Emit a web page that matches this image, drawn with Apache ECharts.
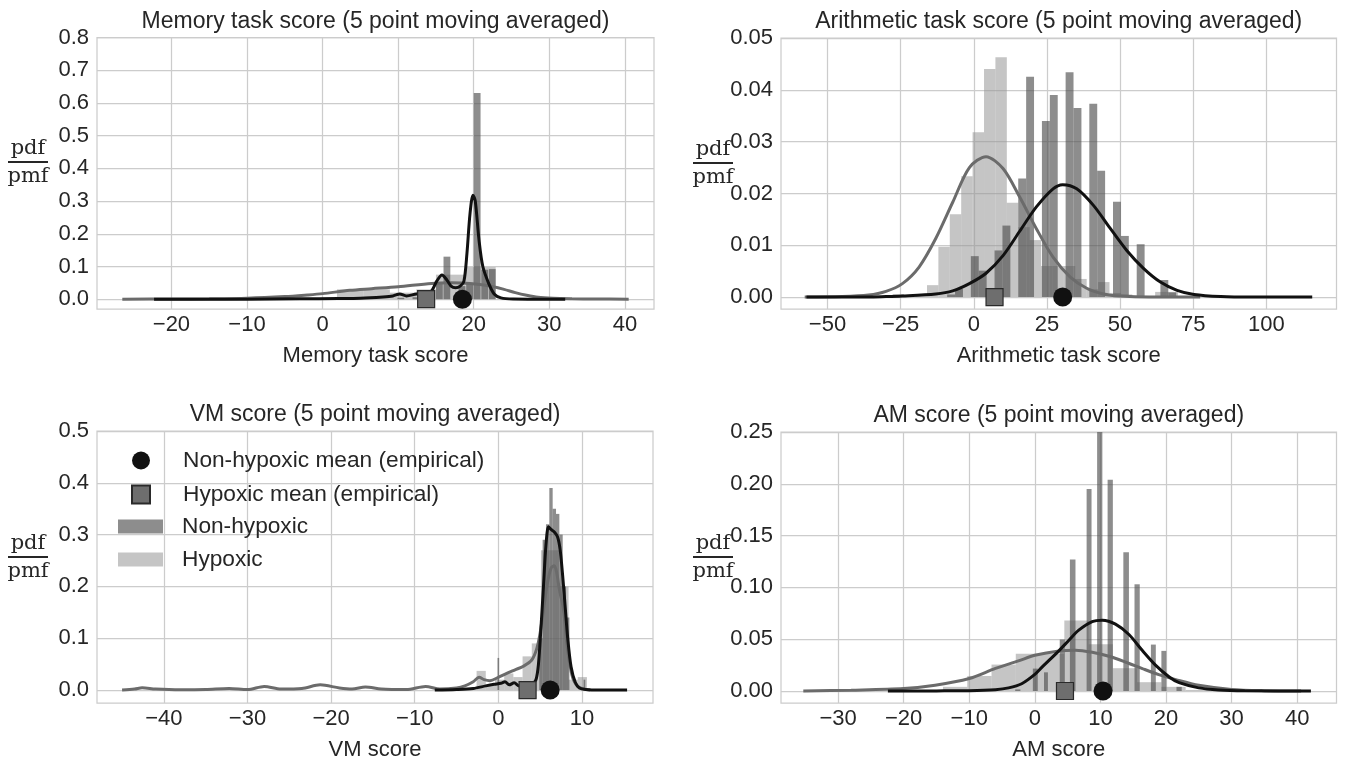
<!DOCTYPE html>
<html>
<head>
<meta charset="utf-8">
<script src="https://cdn.jsdelivr.net/npm/echarts@6/dist/echarts.min.js"></script>
<style>
html, body { margin: 0; padding: 0; background: #fff; }
#chart { width: 1345px; height: 761px; }
</style>
</head>
<body>
<div id="chart"></div>
<script>
// ---------- values ----------
// Memory task score
const memTicksX = [-20, -10, 0, 10, 20, 30, 40];
const memTicksY = [0, 0.1, 0.2, 0.3, 0.4, 0.5, 0.6, 0.7, 0.8];
const memHypEdges = [1.9, 5.4, 8.9, 12.4, 15.0, 16.9, 18.9, 20.9, 22.9];
const memHypPdf = [0.03, 0.03, 0.02, 0.03, 0.075, 0.075, 0.098, 0.098];
const memNonLo = [9.9, 11.9, 13.0, 15.0, 16.0, 18.0, 19.0, 20.0, 21.0, 22.0];
const memNonHi = [10.8, 12.8, 13.9, 15.9, 16.9, 18.9, 19.9, 20.9, 21.9, 22.9];
const memNonPdf = [0.004, 0.006, 0.01, 0.05, 0.13, 0.04, 0.05, 0.63, 0.09, 0.092];
const memHypCurve = [[-26.5, 0], [-20, 0.0005], [-15, 0.0012], [-10, 0.003], [-5, 0.008], [-2, 0.013], [0, 0.017],
  [3.6, 0.027], [6.5, 0.032], [10, 0.038], [14.4, 0.048], [17, 0.05], [19.5, 0.048], [22, 0.041], [24, 0.03],
  [25.5, 0.02], [27, 0.012], [28.5, 0.006], [30.5, 0.003], [33, 0.0015], [36, 0.0005], [40.5, 0]];
const memNonCurve = [[-22.3, 0], [-10, 0], [-3, 0.001], [2, 0.002], [5, 0.003], [8, 0.007], [9.3, 0.01], [9.8, 0.014],
  [10.2, 0.016], [11.1, 0.01], [12.4, 0.016], [13.5, 0.018], [14.4, 0.025], [15.1, 0.055], [15.8, 0.074], [16.4, 0.06],
  [17.0, 0.04], [17.6, 0.035], [18.2, 0.04], [18.7, 0.055], [19.1, 0.14], [19.5, 0.26], [19.9, 0.318], [20.2, 0.3],
  [20.7, 0.18], [21.2, 0.1], [22.0, 0.047], [22.7, 0.016], [23.6, 0.004], [25.3, 0.0005], [28, 0], [32.1, 0]];

// Arithmetic task score
const aritTicksX = [-50, -25, 0, 25, 50, 75, 100];
const aritTicksY = [0, 0.01, 0.02, 0.03, 0.04, 0.05];
const aritHypEdges = [-27.7, -23.8, -19.9, -16.0, -12.1, -8.2, -4.3, -0.4, 3.5, 7.4, 11.3, 15.2, 19.1, 23.0, 26.9,
  30.8, 34.7, 38.6, 42.5, 46.4, 50.3, 54.2, 58.1, 62.0, 65.9, 69.8];
const aritHypPdf = [0.0006, 0, 0.0003, 0.0023, 0.0097, 0.016, 0.0233, 0.0318, 0.044, 0.0463, 0.0182, 0.0135, 0.011,
  0.006, 0.006, 0.006, 0.0035, 0.0015, 0.0029, 0.0008, 0.0005, 0, 0, 0.001, 0.001];
const aritNonEdges = [-9.1, -6.4, -3.7, -1.0, 1.7, 4.4, 7.1, 9.8, 12.5, 15.2, 17.9, 20.6, 23.3, 26.0, 28.7, 31.4,
  34.1, 36.8, 39.5, 42.2, 44.9, 47.6, 50.3, 53.0, 55.7, 58.4, 61.1, 63.8, 66.5, 69.2];
const aritNonPdf = [0.0005, 0.0016, 0, 0.0079, 0.0051, 0, 0.009, 0.0138, 0, 0.0229, 0.0425, 0, 0.034, 0.039, 0,
  0.0434, 0.0365, 0, 0.0373, 0.0244, 0, 0.0184, 0.0118, 0, 0.0102, 0, 0, 0.0033, 0.0009];
const aritHypCurve = [[-57.8, 0], [-45, 0.0001], [-36, 0.0004], [-30, 0.0011], [-24.4, 0.0026], [-18.7, 0.0058],
  [-13, 0.0113], [-7.2, 0.0183], [-1.5, 0.025], [4.2, 0.0271], [10, 0.0248], [15.7, 0.0193], [21.4, 0.0132],
  [27.1, 0.0077], [32.9, 0.0039], [38.6, 0.0017], [44.3, 0.0006], [50, 0.0002], [60, 0], [77.4, 0]];
const aritNonCurve = [[-57.2, 0], [-40, 0], [-30, 0.0001], [-24.4, 0.0002], [-13, 0.0006], [-7.2, 0.0012],
  [-1.5, 0.0026], [4.2, 0.0046], [10, 0.008], [15.7, 0.0127], [21.4, 0.0174], [27.1, 0.0209], [30.4, 0.0217],
  [35.2, 0.0209], [40.9, 0.0177], [46.6, 0.0133], [52.3, 0.009], [58.1, 0.0055], [63.8, 0.0029], [69.5, 0.0013],
  [75.3, 0.0005], [84.4, 0.0001], [95, 0], [115.7, 0]];

// VM score
const vmTicksX = [-40, -30, -20, -10, 0, 10];
const vmTicksY = [0, 0.1, 0.2, 0.3, 0.4, 0.5];
const vmHypEdges = [-2.6, -1.5, -0.4, 0.7, 1.8, 2.9, 4.0, 5.1, 6.2, 7.3, 8.4, 9.5, 10.6];
const vmHypPdf = [0.037, 0.01, 0.02, 0.032, 0.025, 0.065, 0.09, 0.27, 0.27, 0.2, 0.02, 0.025];
const vmNonLo = [-0.1, 4.9, 5.3, 5.7, 6.1, 6.5, 6.9, 7.3, 7.7, 8.1, 10.2];
const vmNonHi = [0.1, 5.3, 5.7, 6.1, 6.5, 6.9, 7.3, 7.7, 8.1, 8.5, 10.4];
const vmNonPdf = [0.062, 0.1, 0.29, 0.32, 0.39, 0.35, 0.34, 0.3, 0.2, 0.14, 0.02];
const vmHypCurve = [[-45, 0], [-43.5, 0.002], [-42.6, 0.0045], [-41, 0.002], [-38, 0.0005], [-35, 0.001],
  [-32.2, 0.003], [-30, 0.001], [-28, 0.007], [-26, 0.002], [-23.5, 0.003], [-21.3, 0.01], [-19, 0.004],
  [-17.5, 0.002], [-15.9, 0.006], [-14, 0.002], [-11, 0.001], [-8.7, 0.007], [-7, 0.002], [-5, 0.004], [-4, 0.008],
  [-3, 0.016], [-2.3, 0.0245], [-1.7, 0.02], [-1, 0.018], [0, 0.0245], [1, 0.032], [2, 0.039], [3, 0.046], [4, 0.058],
  [4.6, 0.08], [5, 0.11], [5.4, 0.155], [5.8, 0.2], [6.3, 0.235], [6.7, 0.24], [7.0, 0.225], [7.3, 0.194],
  [7.8, 0.155], [8.2, 0.09], [8.6, 0.045], [9, 0.019], [9.6, 0.006], [10.5, 0.001], [11, 0]];
const vmNonCurve = [[-7.6, 0], [-5, 0.001], [-3, 0.003], [-1.5, 0.008], [-0.5, 0.011], [0.3, 0.013], [0.8, 0.016],
  [1.3, 0.01], [1.9, 0.014], [2.5, 0.008], [3.3, 0.009], [4.0, 0.011], [4.5, 0.02], [4.8, 0.05], [5.1, 0.12],
  [5.4, 0.2], [5.7, 0.28], [6.0, 0.315], [6.3, 0.31], [6.7, 0.305], [7.1, 0.295], [7.4, 0.27], [7.7, 0.22],
  [8.0, 0.16], [8.3, 0.1], [8.7, 0.045], [9.2, 0.015], [9.7, 0.004], [10.5, 0.001], [12, 0], [15.4, 0]];

// AM score
const amTicksX = [-30, -20, -10, 0, 10, 20, 30, 40];
const amTicksY = [0, 0.05, 0.1, 0.15, 0.2, 0.25];
const amHypEdges = [-14.0, -10.3, -6.6, -2.9, 0.8, 4.5, 8.2, 11.9, 15.6, 19.3, 23.0, 26.7];
const amHypPdf = [0.004, 0.0145, 0.0255, 0.036, 0.036, 0.068, 0.045, 0.022, 0.0085, 0.004, 0.001];
const amNonLo = [-3.0, -0.3, 1.4, 3.8, 5.35, 7.9, 9.5, 11.1, 13.5, 15.2, 17.7, 19.3, 21.6];
const amNonHi = [-2.2, 0.45, 2.0, 4.58, 6.2, 8.65, 10.3, 11.9, 14.35, 16.0, 18.45, 20.05, 22.4];
const amNonPdf = [0.0015, 0.0216, 0.018, 0.0497, 0.127, 0.195, 0.25, 0.204, 0.134, 0.103, 0.0448, 0.0387, 0.004];
const amHypCurve = [[-35.3, 0], [-28, 0.0008], [-20, 0.0023], [-15.2, 0.0055], [-10, 0.012], [-6, 0.0218],
  [-2.5, 0.029], [0, 0.0345], [3.7, 0.0387], [6.2, 0.0394], [8.75, 0.0374], [11.3, 0.0335], [13.8, 0.028],
  [16.4, 0.0216], [18.9, 0.0158], [21.5, 0.011], [25, 0.0055], [30, 0.0015], [35, 0.0003], [40.6, 0]];
const amNonCurve = [[-22.4, 0], [-15, 0.0001], [-10, 0.0003], [-6, 0.0013], [-4, 0.003], [-2, 0.007], [0, 0.016],
  [1.1, 0.023], [3.7, 0.039], [5.2, 0.049], [6.7, 0.0587], [8.75, 0.067], [10.3, 0.0684], [12.3, 0.0645],
  [14.35, 0.0545], [16.4, 0.039], [18.4, 0.025], [20.5, 0.0135], [22, 0.008], [25, 0.003], [28, 0.001],
  [32, 0.0002], [42.1, 0]];

// empirical means (memory, arithmetic, VM, AM)
const meanNon = [18.5, 30.4, 6.2, 10.4];
const meanHyp = [13.7, 7.1, 3.5, 4.6];

// ---------- styling ----------
const FONT = '"Liberation Sans", Arial, sans-serif';
const SERIF = '"DejaVu Serif", "Liberation Serif", serif';
const INK = '#262626';
const GRIDC = '#cccccc';
const HYP_FILL = 'rgba(150,150,150,0.55)';
const NON_FILL = 'rgba(80,80,80,0.65)';
const HYP_LINE = '#6b6b6b';
const NON_LINE = '#111111';

function edgeBars(edges, pdf) { return pdf.map((h, i) => [edges[i], edges[i + 1], h]); }
function pairBars(lo, hi, pdf) { return pdf.map((h, i) => [lo[i], hi[i], h]); }
function minus(v) { return v < 0 ? '\u2212' + Math.abs(v) : String(v); }

const panels = [
  { box: { left: 97, top: 37.5, width: 557, height: 271.5 }, x: [-29.85, 43.85], y: [-0.03, 0.8],
    xTicks: memTicksX, yTicks: memTicksY, dec: 1,
    title: 'Memory task score (5 point moving averaged)', xName: 'Memory task score',
    hyp: edgeBars(memHypEdges, memHypPdf), non: pairBars(memNonLo, memNonHi, memNonPdf),
    hypCurve: memHypCurve, nonCurve: memNonCurve, frac: [28, 162] },
  { box: { left: 781, top: 38, width: 555.5, height: 271 }, x: [-65.9, 124.0], y: [-0.0023, 0.05],
    xTicks: aritTicksX, yTicks: aritTicksY, dec: 2,
    title: 'Arithmetic task score (5 point moving averaged)', xName: 'Arithmetic task score',
    hyp: edgeBars(aritHypEdges, aritHypPdf), non: edgeBars(aritNonEdges, aritNonPdf),
    hypCurve: aritHypCurve, nonCurve: aritNonCurve, frac: [713, 163] },
  { box: { left: 97, top: 431, width: 556, height: 272 }, x: [-48.0, 18.5], y: [-0.025, 0.5],
    xTicks: vmTicksX, yTicks: vmTicksY, dec: 1,
    title: 'VM score (5 point moving averaged)', xName: 'VM score',
    hyp: edgeBars(vmHypEdges, vmHypPdf), non: pairBars(vmNonLo, vmNonHi, vmNonPdf),
    hypCurve: vmHypCurve, nonCurve: vmNonCurve, frac: [28, 557] },
  { box: { left: 781, top: 432, width: 555.5, height: 271 }, x: [-38.7, 46.0], y: [-0.0116, 0.25],
    xTicks: amTicksX, yTicks: amTicksY, dec: 2,
    title: 'AM score (5 point moving averaged)', xName: 'AM score',
    hyp: edgeBars(amHypEdges, amHypPdf), non: pairBars(amNonLo, amNonHi, amNonPdf),
    hypCurve: amHypCurve, nonCurve: amNonCurve, frac: [713, 557] }
];

function renderBar(params, api) {
  const h = api.value(2);
  if (!h) return null;
  const a = api.coord([api.value(0), h]);
  const b = api.coord([api.value(1), 0]);
  return { type: 'rect', shape: { x: a[0], y: a[1], width: b[0] - a[0], height: b[1] - a[1] },
    style: { fill: api.visual('color') } };
}

const grids = [], xAxes = [], yAxes = [], series = [], graphics = [];
panels.forEach((p, i) => {
  grids.push(Object.assign({ show: true, borderColor: GRIDC, borderWidth: 1.25, containLabel: false,
    outerBoundsMode: 'none' }, p.box));
  xAxes.push({
    type: 'value', gridIndex: i, min: p.x[0], max: p.x[1],
    axisLine: { show: false }, axisTick: { show: false, customValues: p.xTicks },
    axisLabel: { customValues: p.xTicks, formatter: minus, fontSize: 22, color: INK, fontFamily: FONT, margin: 5 },
    splitLine: { show: true, lineStyle: { color: GRIDC, width: 1.25 } },
    name: p.xName, nameLocation: 'middle', nameGap: 36,
    nameTextStyle: { fontSize: 22, color: INK, fontFamily: FONT }
  });
  yAxes.push({
    type: 'value', gridIndex: i, min: p.y[0], max: p.y[1],
    axisLine: { show: false }, axisTick: { show: false, customValues: p.yTicks },
    axisLabel: { customValues: p.yTicks, formatter: v => v.toFixed(p.dec), fontSize: 22, color: INK,
      fontFamily: FONT, margin: 8 },
    splitLine: { show: true, lineStyle: { color: GRIDC, width: 1.25 } }
  });
  series.push({ type: 'custom', name: 'Hypoxic', xAxisIndex: i, yAxisIndex: i, renderItem: renderBar,
    itemStyle: { color: HYP_FILL }, encode: { x: [0, 1], y: 2 }, data: p.hyp, z: 1 });
  series.push({ type: 'custom', name: 'Non-hypoxic', xAxisIndex: i, yAxisIndex: i, renderItem: renderBar,
    itemStyle: { color: NON_FILL }, encode: { x: [0, 1], y: 2 }, data: p.non, z: 2 });
  series.push({ type: 'line', name: 'Hypoxic fit', xAxisIndex: i, yAxisIndex: i, data: p.hypCurve,
    smooth: 0.3, showSymbol: false, lineStyle: { color: HYP_LINE, width: 3 }, itemStyle: { color: HYP_LINE }, z: 3 });
  series.push({ type: 'line', name: 'Non-hypoxic fit', xAxisIndex: i, yAxisIndex: i, data: p.nonCurve,
    smooth: 0.3, showSymbol: false, lineStyle: { color: NON_LINE, width: 3 }, itemStyle: { color: NON_LINE }, z: 4 });
  series.push({ type: 'scatter', name: 'Hypoxic mean (empirical)', xAxisIndex: i, yAxisIndex: i,
    data: [[meanHyp[i], 0]], symbol: 'rect', symbolSize: 17, clip: false,
    itemStyle: { color: '#6e6e6e', borderColor: '#2a2a2a', borderWidth: 1.2, opacity: 1 }, z: 5 });
  series.push({ type: 'scatter', name: 'Non-hypoxic mean (empirical)', xAxisIndex: i, yAxisIndex: i,
    data: [[meanNon[i], 0]], symbol: 'circle', symbolSize: 19, clip: false,
    itemStyle: { color: '#111111', opacity: 1 }, z: 6 });

  const cx = p.box.left + p.box.width / 2;
  graphics.push({ type: 'text', x: cx, y: p.box.top - 16,
    style: { text: p.title, font: '23px ' + FONT, fill: INK, align: 'center', verticalAlign: 'middle',
      textAlign: 'center', textVerticalAlign: 'middle' } });
  const fx = p.frac[0], fy = p.frac[1];
  graphics.push({ type: 'text', x: fx, y: fy - 13,
    style: { text: 'pdf', font: '21px ' + SERIF, fill: INK, align: 'center', verticalAlign: 'middle',
      textAlign: 'center', textVerticalAlign: 'middle' } });
  graphics.push({ type: 'line', shape: { x1: fx - 20, y1: fy, x2: fx + 20, y2: fy },
    style: { stroke: INK, lineWidth: 1.8 } });
  graphics.push({ type: 'text', x: fx, y: fy + 15,
    style: { text: 'pmf', font: '21px ' + SERIF, fill: INK, align: 'center', verticalAlign: 'middle',
      textAlign: 'center', textVerticalAlign: 'middle' } });
});

const chart = echarts.init(document.getElementById('chart'), null, { renderer: 'canvas' });
chart.setOption({
  animation: false,
  backgroundColor: '#ffffff',
  grid: grids, xAxis: xAxes, yAxis: yAxes, series: series,
  legend: [
    { orient: 'vertical', left: 131, top: 449, itemWidth: 18, itemHeight: 18, itemGap: 11,
      selectedMode: false, padding: 0,
      data: ['Non-hypoxic mean (empirical)', 'Hypoxic mean (empirical)'],
      textStyle: { fontSize: 22.7, color: INK, fontFamily: FONT, padding: [0, 0, 0, 28] } },
    { orient: 'vertical', left: 118, top: 515, itemWidth: 45, itemHeight: 14, itemGap: 10,
      selectedMode: false, padding: 0, symbolKeepAspect: false,
      data: [{ name: 'Non-hypoxic', icon: 'rect' }, { name: 'Hypoxic', icon: 'rect' }],
      textStyle: { fontSize: 22.7, color: INK, fontFamily: FONT, padding: [0, 0, 0, 14] } }
  ],
  graphic: graphics
});
</script>
</body>
</html>
